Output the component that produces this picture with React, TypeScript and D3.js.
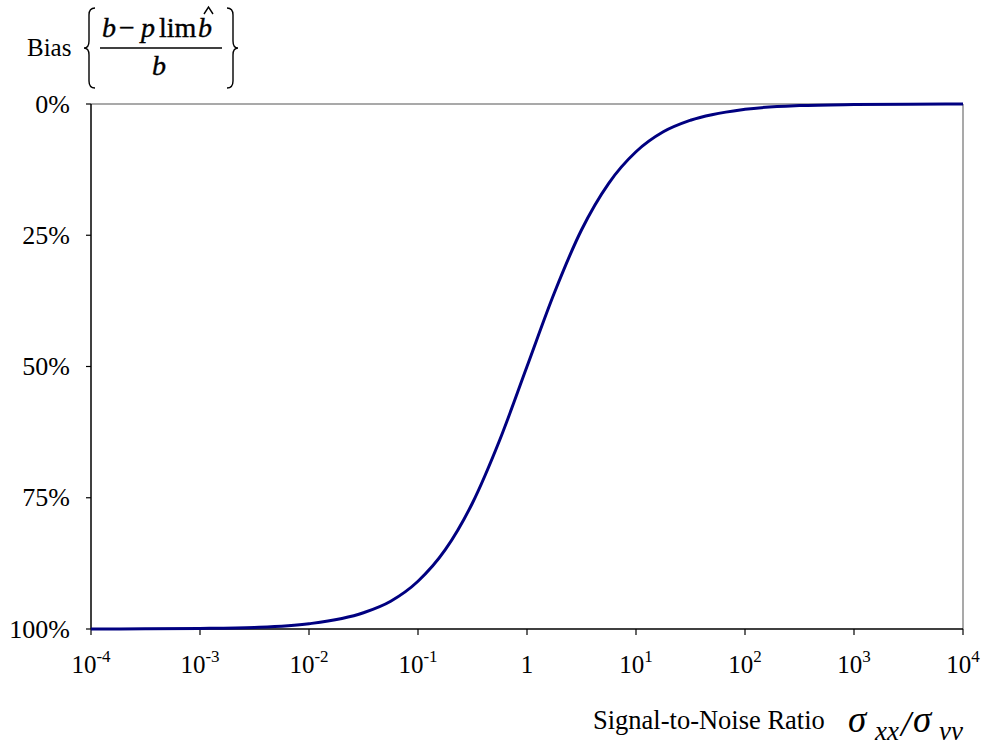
import React from "react";
import * as d3 from "d3";

// signal-to-noise ratio (x) and bias in percent
const snr = [
  1e-4, 3.16e-4, 1e-3, 3.16e-3, 1e-2, 0.0316, 0.0562, 0.1, 0.178, 0.316,
  0.562, 1, 1.78, 3.16, 5.62, 10, 17.8, 31.6, 100, 316, 1000, 3162, 10000,
];
const bias = [
  99.99, 99.97, 99.9, 99.7, 99.0, 96.9, 94.7, 90.9, 84.9, 76.0,
  64.0, 50.0, 36.0, 24.0, 15.1, 9.1, 5.3, 3.1, 1.0, 0.3, 0.1, 0.03, 0.01,
];

const yTicks = [0, 25, 50, 75, 100];
const xTicks = [1e-4, 1e-3, 1e-2, 1e-1, 1, 10, 100, 1000, 10000];
const xExp = ["-4", "-3", "-2", "-1", "", "1", "2", "3", "4"];

const W = 982;
const H = 747;
const left = 91;
const right = 963;
const top = 104;
const bottom = 629;
const serif = "'Liberation Serif', 'DejaVu Serif', serif";

const App = () => {
  const x = d3.scaleLog().domain([1e-4, 1e4]).range([left, right]);
  const y = d3.scaleLinear().domain([0, 100]).range([top, bottom]);

  const pts: [number, number][] = snr.map((s, i) => [s, bias[i]]);
  const line = d3
    .line<[number, number]>()
    .x((d) => x(d[0]))
    .y((d) => y(d[1]))
    .curve(d3.curveMonotoneX);

  return (
    <svg
      width={W}
      height={H}
      style={{ position: "absolute", left: 0, top: 0, background: "#fff" }}
      fontFamily={serif}
    >
      {/* frame */}
      <line x1={left} x2={right} y1={top} y2={top} stroke="#8c8c8c" strokeWidth={1.5} />
      <line x1={right} x2={right} y1={top} y2={bottom} stroke="#8c8c8c" strokeWidth={1.5} />
      <line x1={left} x2={left} y1={top} y2={bottom} stroke="#000" strokeWidth={1.5} />
      <line x1={left} x2={right} y1={bottom} y2={bottom} stroke="#000" strokeWidth={1.5} />

      {/* y axis */}
      {yTicks.map((t) => (
        <g key={t}>
          <line x1={left - 5} x2={left} y1={y(t)} y2={y(t)} stroke="#000" strokeWidth={1.2} />
          <text x={70} y={y(t) + 8.5} textAnchor="end" fontSize={26}>
            {t}%
          </text>
        </g>
      ))}

      {/* x axis */}
      {xTicks.map((t, i) => (
        <g key={t}>
          <line x1={x(t)} x2={x(t)} y1={bottom} y2={bottom + 6} stroke="#000" strokeWidth={1.2} />
          {xExp[i] === "" ? (
            <text x={x(t)} y={673} textAnchor="middle" fontSize={25}>
              1
            </text>
          ) : (
            <text x={x(t)} y={673} textAnchor="middle" fontSize={25}>
              10
              <tspan fontSize={17} dy={-11}>
                {xExp[i]}
              </tspan>
            </text>
          )}
        </g>
      ))}

      {/* curve */}
      <path d={line(pts) || ""} fill="none" stroke="#000080" strokeWidth={3} />

      {/* y title */}
      <text x={27} y={56} fontSize={25}>
        Bias
      </text>
      <path
        d="M95 8 Q89 8 89 15 L89 41 Q89 48 84 48 Q89 48 89 55 L89 81 Q89 88 95 88"
        fill="none"
        stroke="#000"
        strokeWidth={1.4}
      />
      <path
        d="M227 8 Q233 8 233 15 L233 41 Q233 48 238 48 Q233 48 233 55 L233 81 Q233 88 227 88"
        fill="none"
        stroke="#000"
        strokeWidth={1.4}
      />
      <g fontSize={28} stroke="#000" strokeWidth={0.4}>
        <text x={102} y={37} fontStyle="italic">b</text>
        <text x={127} y={37} textAnchor="middle">−</text>
        <text x={141} y={37} fontStyle="italic">p</text>
        <text x={159} y={37}>lim</text>
        <text x={198} y={37} fontStyle="italic">b</text>
      </g>
      <path d="M204 14 L208.5 7 L213 14" fill="none" stroke="#000" strokeWidth={1.4} />
      <line x1={100} x2={222} y1={48} y2={48} stroke="#000" strokeWidth={1.5} />
      <text x={152} y={75} fontSize={28} fontStyle="italic" stroke="#000" strokeWidth={0.4}>
        b
      </text>

      {/* x title */}
      <text x={593} y={729} fontSize={26.5}>
        Signal-to-Noise Ratio
      </text>
      <g fontStyle="italic">
        <text x={848} y={732} fontSize={37}>σ</text>
        <text x={875} y={740} fontSize={27}>xx</text>
        <text x={901} y={736} fontSize={36}>/</text>
        <text x={913} y={732} fontSize={37}>σ</text>
        <text x={939} y={740} fontSize={27}>vv</text>
      </g>
    </svg>
  );
};

export default App;
